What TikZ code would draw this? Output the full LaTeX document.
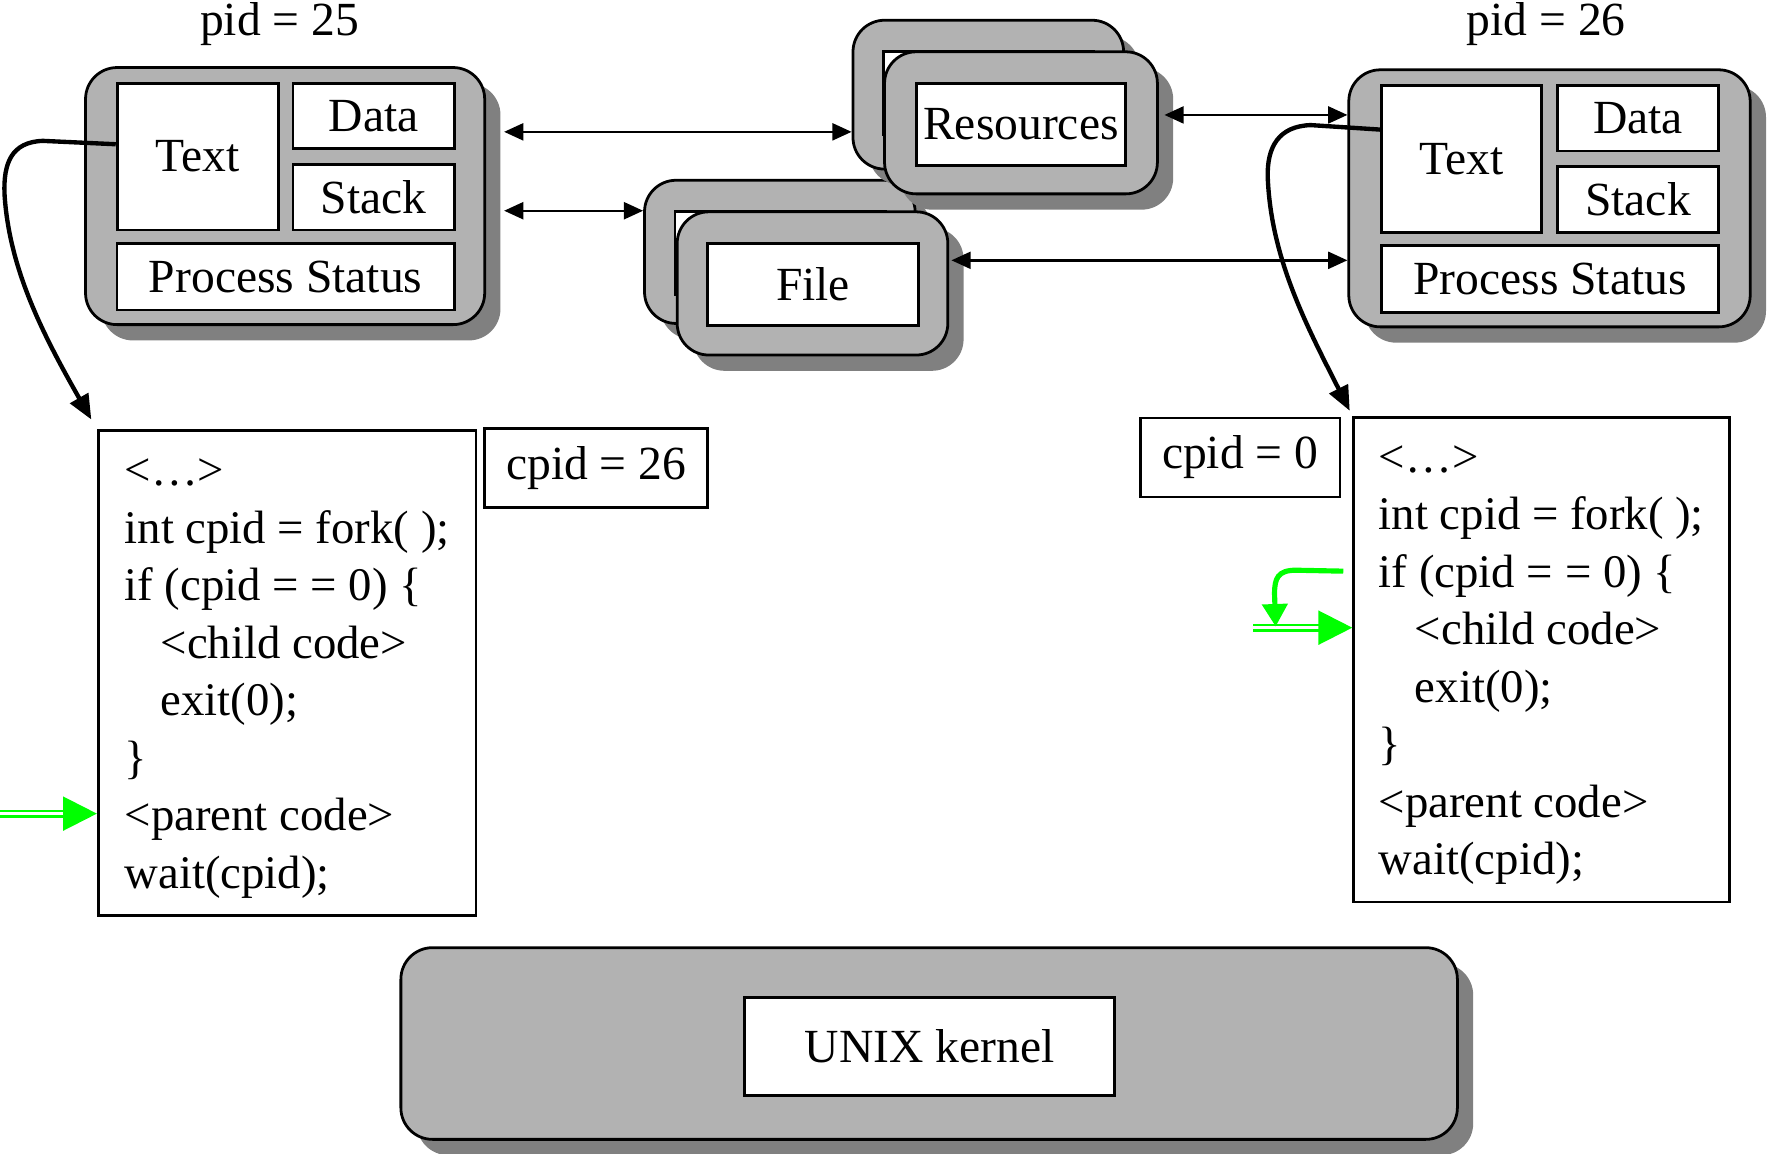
\documentclass[tikz,border=0pt]{standalone}
\usepackage{fontspec}
\setmainfont{Liberation Serif}
\usetikzlibrary{shadows,arrows.meta}

\definecolor{grn}{RGB}{0,255,0}

\tikzset{
  proc/.style={draw, line width=0.7pt, fill=gray!60, rounded corners=0.28cm, inner sep=0,
    drop shadow={shadow xshift=0.14cm, shadow yshift=-0.14cm, fill=gray, opacity=1}},
  cell/.style={draw, line width=0.7pt, fill=white, inner sep=0},
  code/.style={draw, line width=0.7pt, fill=white, anchor=north west, align=left,
    inner xsep=0.1cm, inner ysep=0.09cm, font=\fontsize{11.8pt}{14.5pt}\selectfont},
  link/.style={{Triangle[length=0.17cm,width=0.15cm]}-{Triangle[length=0.17cm,width=0.15cm]}, line width=0.6pt},
  forkline/.style={-{Triangle[length=0.22cm,width=0.18cm]}, line width=1.1pt},
  flow/.style={draw=grn, double=white, double distance=0.8pt, line width=0.6pt,
    -{Triangle[length=0.3cm,width=0.3cm]}},
  flowc/.style={draw=grn, line width=1.3pt, -{Triangle[length=0.2cm,width=0.22cm]}}
}

\begin{document}
\begin{tikzpicture}[x=0.01cm, y=-0.01cm, font=\fontsize{12pt}{14.5pt}\selectfont]
\useasboundingbox (0,0) rectangle (1568,1024);

% parent process, pid 25
\node (lpid) at (248,21) {pid = 25};
\node[proc, minimum width=3.54cm, minimum height=2.28cm] (lproc) at (253,174) {};
\node[cell, minimum width=1.43cm, minimum height=1.30cm] (ltext) at (175.5,139) {Text};
\node[cell, minimum width=1.43cm, minimum height=0.58cm] (ldata) at (331.5,103) {Data};
\node[cell, minimum width=1.43cm, minimum height=0.58cm] (lstack) at (331.5,175) {Stack};
\node[cell, minimum width=2.99cm, minimum height=0.59cm] (lstat) at (253.5,245.5) {Process Status};

% child process, pid 26
\node (rpid) at (1372,21) {pid = 26};
\node[proc, minimum width=3.56cm, minimum height=2.28cm] (rproc) at (1375,176) {};
\node[cell, minimum width=1.42cm, minimum height=1.30cm] (rtext) at (1297,141) {Text};
\node[cell, minimum width=1.43cm, minimum height=0.58cm] (rdata) at (1453.5,105) {Data};
\node[cell, minimum width=1.43cm, minimum height=0.58cm] (rstack) at (1453.5,177) {Stack};
\node[cell, minimum width=2.99cm, minimum height=0.59cm] (rstat) at (1375.5,247.5) {Process Status};

% shared file (two copies)
\node[proc, minimum width=2.40cm, minimum height=1.27cm] (fileback) at (692,223.5) {};
\node[cell, minimum width=1.87cm, minimum height=0.73cm] (filebacklbl) at (692.5,224.5) {};
\node[proc, minimum width=2.40cm, minimum height=1.27cm] (filefront) at (721,251.5) {};
\node[cell, minimum width=1.87cm, minimum height=0.73cm] (filelbl) at (721.5,252.5) {File};

% shared resources (two copies)
\node[proc, minimum width=2.40cm, minimum height=1.32cm] (resback) at (877,84) {};
\node[cell, minimum width=1.86cm, minimum height=0.73cm] (resbacklbl) at (877,82.5) {};
\node[proc, minimum width=2.42cm, minimum height=1.26cm] (resfront) at (906,109) {};
\node[cell, minimum width=1.86cm, minimum height=0.73cm] (reslbl) at (906,110.5) {Resources};

\draw[link, shorten <=0.16cm] (lproc.east |- 0,117) -- (resback.west |- 0,117);
\draw[link, shorten <=0.16cm] (lproc.east |- 0,187) -- (fileback.west |- 0,187);
\draw[link, shorten <=0.05cm] (resfront.east |- 0,102) -- (rproc.west |- 0,102);
\draw[link, shorten <=0.02cm] (filefront.east |- 0,231) -- (rproc.west |- 0,231);

% program text of both processes
\node[code, minimum width=3.35cm, minimum height=4.30cm] (lcode) at (86,381)
  {\rule{0pt}{0.40cm}<…>\\ int cpid = fork( );\\ if (cpid = = 0) \{\\ \hspace*{0.32cm}<child code>\\
   \hspace*{0.32cm}exit(0);\\ \}\\ <parent code>\\ wait(cpid);\strut};
\node[cell, minimum width=1.98cm, minimum height=0.70cm] (lcpid) at (529,415) {cpid = 26};

\node[code, minimum width=3.33cm, minimum height=4.29cm] (rcode) at (1200,369)
  {\rule{0pt}{0.40cm}<…>\\ int cpid = fork( );\\ if (cpid = = 0) \{\\ \hspace*{0.32cm}<child code>\\
   \hspace*{0.32cm}exit(0);\\ \}\\ <parent code>\\ wait(cpid);\strut};
\node[cell, minimum width=1.77cm, minimum height=0.70cm] (rcpid) at (1100.5,406) {cpid = 0};

\draw[forkline, shorten >=0.1cm] (ltext.west |- 0,128) -- (38,125) .. controls (10,126) and (3,145) .. (4,172)
  .. controls (8,240) and (40,300) .. (lcode.north west);
\draw[forkline, shorten >=0.05cm] (rtext.west |- 0,115) -- (1163,111) .. controls (1135,112) and (1124,130) .. (1125,158)
  .. controls (1128,230) and (1160,290) .. (rcode.north west);

% where execution goes on
\coordinate (lgin) at (0,722);
\coordinate (rgin) at (1112,557);
\draw[flow] (lgin) -- (lcode.west |- lgin);
\draw[flow] (rgin) -- (rcode.west |- rgin);
\draw[flowc, shorten <=0.08cm] (rcode.west |- 0,507) -- (1150,506) .. controls (1134,506) and (1131,513) .. (1131,527) -- (1132,556);

% kernel
\node[proc, minimum width=9.37cm, minimum height=1.70cm] (kern) at (824.5,926) {};
\node[cell, minimum width=3.28cm, minimum height=0.87cm] (kbox) at (825,928.5) {UNIX kernel};
\end{tikzpicture}
\end{document}
